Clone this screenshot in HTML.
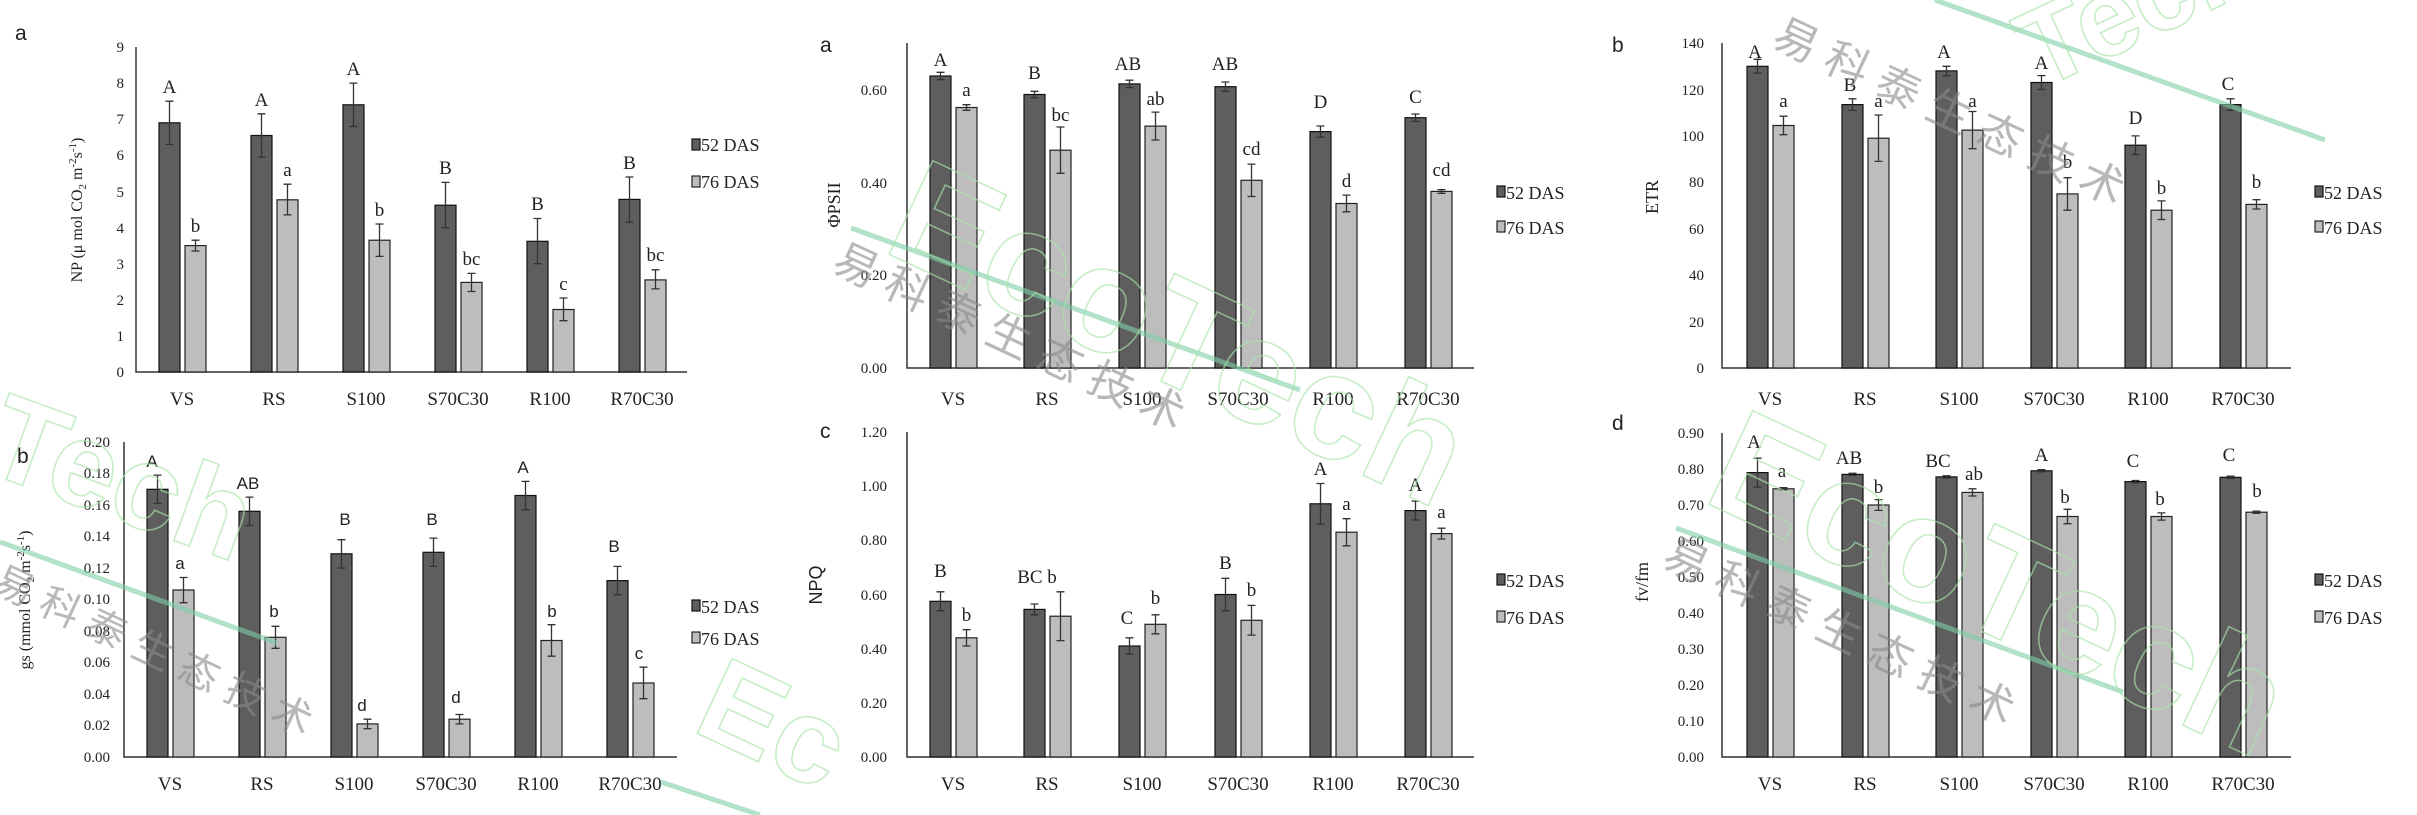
<!DOCTYPE html>
<html><head><meta charset="utf-8"><style>
html,body{margin:0;padding:0;background:#fff;}
svg{display:block;}
text{font-family:"Liberation Serif","Noto Serif CJK SC",serif;fill:#222;}
.t{font-size:15px;text-anchor:end;}
.c{font-size:19px;text-anchor:middle;}
.l{font-size:19px;text-anchor:middle;}
.lg{font-size:18px;}
.p{font-family:"Liberation Sans",sans-serif;font-size:21px;}
.d{fill:#5e5e5e;stroke:#111;stroke-width:1.2;}
.g{fill:#bdbdbd;stroke:#222;stroke-width:1.2;}
.e{stroke:#333;stroke-width:1.3;fill:none;}
.ax{stroke:#333;stroke-width:1.5;fill:none;}
.wm{font-family:"Liberation Sans","Noto Sans CJK SC",sans-serif;fill:#8a8a8a;opacity:.6;}
.eco{font-family:"Liberation Sans",sans-serif;font-weight:bold;fill:none;stroke:#a8e4a8;stroke-width:1.6;opacity:.65;}
</style></head><body>
<svg width="2417" height="815" viewBox="0 0 2417 815" xmlns="http://www.w3.org/2000/svg">
<rect width="2417" height="815" fill="#fff"/>

<!-- Panel NP -->
<text class="p" x="15" y="40">a</text>
<path class="ax" d="M136 47V372H687"/>
<g>
<text class="t" x="124" y="377">0</text><text class="t" x="124" y="341">1</text><text class="t" x="124" y="305">2</text><text class="t" x="124" y="269">3</text><text class="t" x="124" y="233">4</text><text class="t" x="124" y="197">5</text><text class="t" x="124" y="160">6</text><text class="t" x="124" y="124">7</text><text class="t" x="124" y="88">8</text><text class="t" x="124" y="52">9</text>
</g>
<text x="82" y="210" style="font-size:16px" text-anchor="middle" transform="rotate(-90 82 210)">NP (μ mol CO<tspan font-size="11" dy="4">2</tspan><tspan dy="-4"> m</tspan><tspan font-size="11" dy="-6">-2</tspan><tspan dy="6">s</tspan><tspan font-size="11" dy="-6">-1</tspan><tspan dy="6">)</tspan></text>
<rect class="d" x="159" y="122.8" width="21" height="249.2"/><path class="e" d="M169.5 101.2V144.5M165.5 101.2h8M165.5 144.5h8"/><text class="l" x="169.5" y="93">A</text>
<rect class="g" x="185" y="245.6" width="21" height="126.4"/><path class="e" d="M195.5 240.2V251M191.5 240.2h8M191.5 251h8"/><text class="l" x="195.5" y="232">b</text>
<rect class="d" x="251" y="135.5" width="21" height="236.5"/><path class="e" d="M261.5 113.8V157.1M257.5 113.8h8M257.5 157.1h8"/><text class="l" x="261.5" y="106">A</text>
<rect class="g" x="277" y="199.8" width="21" height="172.2"/><path class="e" d="M287.5 184.2V214.9M283.5 184.2h8M283.5 214.9h8"/><text class="l" x="287.5" y="176">a</text>
<rect class="d" x="343" y="104.8" width="21" height="267.2"/><path class="e" d="M353.5 83.1V126.5M349.5 83.1h8M349.5 126.5h8"/><text class="l" x="353.5" y="75">A</text>
<rect class="g" x="369" y="240.2" width="21" height="131.8"/><path class="e" d="M379.5 224V256.4M375.5 224h8M375.5 256.4h8"/><text class="l" x="379.5" y="216">b</text>
<rect class="d" x="435" y="205.2" width="21" height="166.8"/><path class="e" d="M445.5 182.4V227.6M441.5 182.4h8M441.5 227.6h8"/><text class="l" x="445.5" y="174">B</text>
<rect class="g" x="461" y="282.4" width="21" height="89.6"/><path class="e" d="M471.5 273.4V291.5M467.5 273.4h8M467.5 291.5h8"/><text class="l" x="471.5" y="265">bc</text>
<rect class="d" x="527" y="241.3" width="21" height="130.7"/><path class="e" d="M537.5 218.5V263.7M533.5 218.5h8M533.5 263.7h8"/><text class="l" x="537.5" y="210">B</text>
<rect class="g" x="553" y="309.5" width="21" height="62.5"/><path class="e" d="M563.5 298V320.7M559.5 298h8M559.5 320.7h8"/><text class="l" x="563.5" y="290">c</text>
<rect class="d" x="619" y="199.4" width="21" height="172.6"/><path class="e" d="M629.5 177V222.1M625.5 177h8M625.5 222.1h8"/><text class="l" x="629.5" y="169">B</text>
<rect class="g" x="645" y="279.9" width="21" height="92.1"/><path class="e" d="M655.5 269.8V288.9M651.5 269.8h8M651.5 288.9h8"/><text class="l" x="655.5" y="261">bc</text>
<text class="c" x="182" y="405">VS</text><text class="c" x="274" y="405">RS</text><text class="c" x="366" y="405">S100</text><text class="c" x="458" y="405">S70C30</text><text class="c" x="550" y="405">R100</text><text class="c" x="642" y="405">R70C30</text>
<rect class="d" x="692" y="139" width="8" height="11"/><text class="lg" x="701" y="151">52 DAS</text>
<rect class="g" x="692" y="176" width="8" height="11"/><text class="lg" x="701" y="188">76 DAS</text>

<!-- Panel gs -->
<text class="p" x="17" y="463">b</text>
<path class="ax" d="M124 442V757H677"/>
<g>
<text class="t" x="110" y="762">0.00</text><text class="t" x="110" y="730">0.02</text><text class="t" x="110" y="699">0.04</text><text class="t" x="110" y="667">0.06</text><text class="t" x="110" y="636">0.08</text><text class="t" x="110" y="604">0.10</text><text class="t" x="110" y="573">0.12</text><text class="t" x="110" y="541">0.14</text><text class="t" x="110" y="510">0.16</text><text class="t" x="110" y="478">0.18</text><text class="t" x="110" y="447">0.20</text>
</g>
<text x="30" y="600" style="font-size:16px" text-anchor="middle" transform="rotate(-90 30 600)">gs (mmol CO<tspan font-size="11" dy="4">2</tspan><tspan dy="-4"> m</tspan><tspan font-size="11" dy="-6">-2</tspan><tspan dy="6">s</tspan><tspan font-size="11" dy="-6">-1</tspan><tspan dy="6">)</tspan></text>
<rect class="d" x="147" y="489.3" width="21" height="267.7"/><path class="e" d="M157.5 475.1V503.4M153.5 475.1h8M153.5 503.4h8"/><text class="l" x="152" y="467" style="font-family:'Liberation Sans',sans-serif;font-size:17px">A</text>
<rect class="g" x="173" y="590" width="21" height="167"/><path class="e" d="M183.5 577.5V602.7M179.5 577.5h8M179.5 602.7h8"/><text class="l" x="180" y="569" style="font-family:'Liberation Sans',sans-serif;font-size:17px">a</text>
<rect class="d" x="239" y="511.3" width="21" height="245.7"/><path class="e" d="M249.5 497.1V525.5M245.5 497.1h8M245.5 525.5h8"/><text class="l" x="248" y="489" style="font-family:'Liberation Sans',sans-serif;font-size:17px">AB</text>
<rect class="g" x="265" y="637.3" width="21" height="119.7"/><path class="e" d="M275.5 626.3V648.3M271.5 626.3h8M271.5 648.3h8"/><text class="l" x="274" y="617" style="font-family:'Liberation Sans',sans-serif;font-size:17px">b</text>
<rect class="d" x="331" y="553.8" width="21" height="203.2"/><path class="e" d="M341.5 539.7V568M337.5 539.7h8M337.5 568h8"/><text class="l" x="345" y="525" style="font-family:'Liberation Sans',sans-serif;font-size:17px">B</text>
<rect class="g" x="357" y="723.9" width="21" height="33.1"/><path class="e" d="M367.5 719.2V728.7M363.5 719.2h8M363.5 728.7h8"/><text class="l" x="362" y="711" style="font-family:'Liberation Sans',sans-serif;font-size:17px">d</text>
<rect class="d" x="423" y="552.3" width="21" height="204.7"/><path class="e" d="M433.5 538.1V566.4M429.5 538.1h8M429.5 566.4h8"/><text class="l" x="432" y="525" style="font-family:'Liberation Sans',sans-serif;font-size:17px">B</text>
<rect class="g" x="449" y="719.2" width="21" height="37.8"/><path class="e" d="M459.5 714.5V723.9M455.5 714.5h8M455.5 723.9h8"/><text class="l" x="456" y="703" style="font-family:'Liberation Sans',sans-serif;font-size:17px">d</text>
<rect class="d" x="515" y="495.5" width="21" height="261.5"/><path class="e" d="M525.5 481.4V509.7M521.5 481.4h8M521.5 509.7h8"/><text class="l" x="523" y="473" style="font-family:'Liberation Sans',sans-serif;font-size:17px">A</text>
<rect class="g" x="541" y="640.5" width="21" height="116.5"/><path class="e" d="M551.5 624.7V656.2M547.5 624.7h8M547.5 656.2h8"/><text class="l" x="552" y="617" style="font-family:'Liberation Sans',sans-serif;font-size:17px">b</text>
<rect class="d" x="607" y="580.6" width="21" height="176.4"/><path class="e" d="M617.5 566.4V594.8M613.5 566.4h8M613.5 594.8h8"/><text class="l" x="614" y="552" style="font-family:'Liberation Sans',sans-serif;font-size:17px">B</text>
<rect class="g" x="633" y="683" width="21" height="74"/><path class="e" d="M643.5 667.2V698.7M639.5 667.2h8M639.5 698.7h8"/><text class="l" x="639" y="659" style="font-family:'Liberation Sans',sans-serif;font-size:17px">c</text>
<text class="c" x="170" y="790">VS</text><text class="c" x="262" y="790">RS</text><text class="c" x="354" y="790">S100</text><text class="c" x="446" y="790">S70C30</text><text class="c" x="538" y="790">R100</text><text class="c" x="630" y="790">R70C30</text>
<rect class="d" x="692" y="600" width="8" height="11"/><text class="lg" x="701" y="613">52 DAS</text>
<rect class="g" x="692" y="632" width="8" height="11"/><text class="lg" x="701" y="645">76 DAS</text>

<!-- Panel PhiPSII -->
<text class="p" x="820" y="52">a</text>
<path class="ax" d="M907 43V368H1474"/>
<text class="t" x="887" y="373">0.00</text><text class="t" x="887" y="280">0.20</text><text class="t" x="887" y="188">0.40</text><text class="t" x="887" y="95">0.60</text>
<text x="840" y="205" style="font-size:18px" text-anchor="middle" transform="rotate(-90 840 205)">ΦPSII</text>
<rect class="d" x="930" y="76" width="21" height="292"/><path class="e" d="M940.5 72.3V79.7M936.5 72.3h8M936.5 79.7h8"/><text class="l" x="940.5" y="66">A</text>
<rect class="g" x="956" y="107.5" width="21" height="260.5"/><path class="e" d="M966.5 104.7V110.3M962.5 104.7h8M962.5 110.3h8"/><text class="l" x="966.5" y="96">a</text>
<rect class="d" x="1024" y="94.5" width="21" height="273.5"/><path class="e" d="M1034.5 91.3V97.8M1030.5 91.3h8M1030.5 97.8h8"/><text class="l" x="1034.5" y="79">B</text>
<rect class="g" x="1050" y="150.2" width="21" height="217.8"/><path class="e" d="M1060.5 127V173.3M1056.5 127h8M1056.5 173.3h8"/><text class="l" x="1060.5" y="121">bc</text>
<rect class="d" x="1119" y="83.9" width="21" height="284.1"/><path class="e" d="M1129.5 80.2V87.6M1125.5 80.2h8M1125.5 87.6h8"/><text class="l" x="1128" y="70">AB</text>
<rect class="g" x="1145" y="126.1" width="21" height="241.9"/><path class="e" d="M1155.5 112.1V140M1151.5 112.1h8M1151.5 140h8"/><text class="l" x="1155.5" y="105">ab</text>
<rect class="d" x="1215" y="86.7" width="21" height="281.3"/><path class="e" d="M1225.5 82V91.3M1221.5 82h8M1221.5 91.3h8"/><text class="l" x="1225" y="70">AB</text>
<rect class="g" x="1241" y="180.3" width="21" height="187.7"/><path class="e" d="M1251.5 164.1V196.5M1247.5 164.1h8M1247.5 196.5h8"/><text class="l" x="1251.5" y="155">cd</text>
<rect class="d" x="1310" y="131.6" width="21" height="236.4"/><path class="e" d="M1320.5 126V137.2M1316.5 126h8M1316.5 137.2h8"/><text class="l" x="1320.5" y="108">D</text>
<rect class="g" x="1336" y="203.5" width="21" height="164.5"/><path class="e" d="M1346.5 195.1V211.8M1342.5 195.1h8M1342.5 211.8h8"/><text class="l" x="1346.5" y="187">d</text>
<rect class="d" x="1405" y="117.7" width="21" height="250.3"/><path class="e" d="M1415.5 114V121.4M1411.5 114h8M1411.5 121.4h8"/><text class="l" x="1415.5" y="103">C</text>
<rect class="g" x="1431" y="191.4" width="21" height="176.6"/><path class="e" d="M1441.5 189.6V193.3M1437.5 189.6h8M1437.5 193.3h8"/><text class="l" x="1441.5" y="176">cd</text>
<text class="c" x="953" y="405">VS</text><text class="c" x="1047" y="405">RS</text><text class="c" x="1142" y="405">S100</text><text class="c" x="1238" y="405">S70C30</text><text class="c" x="1333" y="405">R100</text><text class="c" x="1428" y="405">R70C30</text>
<rect class="d" x="1497" y="186" width="8" height="11"/><text class="lg" x="1506" y="199">52 DAS</text>
<rect class="g" x="1497" y="221" width="8" height="11"/><text class="lg" x="1506" y="234">76 DAS</text>

<!-- Panel NPQ -->
<text class="p" x="820" y="438">c</text>
<path class="ax" d="M907 432V757H1474"/>
<text class="t" x="887" y="762">0.00</text><text class="t" x="887" y="708">0.20</text><text class="t" x="887" y="654">0.40</text><text class="t" x="887" y="600">0.60</text><text class="t" x="887" y="545">0.80</text><text class="t" x="887" y="491">1.00</text><text class="t" x="887" y="437">1.20</text>
<text x="822" y="585" style="font-size:18px;font-family:'Liberation Sans',sans-serif" text-anchor="middle" transform="rotate(-90 822 585)">NPQ</text>
<rect class="d" x="930" y="601.3" width="21" height="155.7"/><path class="e" d="M940.5 591.8V610.8M936.5 591.8h8M936.5 610.8h8"/><text class="l" x="940.5" y="577">B</text>
<rect class="g" x="956" y="637.8" width="21" height="119.2"/><path class="e" d="M966.5 629.7V646M962.5 629.7h8M962.5 646h8"/><text class="l" x="966.5" y="621">b</text>
<rect class="d" x="1024" y="609.4" width="21" height="147.6"/><path class="e" d="M1034.5 604V614.8M1030.5 604h8M1030.5 614.8h8"/><text class="l" x="1037" y="583">BC b</text>
<rect class="g" x="1050" y="616.2" width="21" height="140.8"/><path class="e" d="M1060.5 591.8V640.6M1056.5 591.8h8M1056.5 640.6h8"/>
<rect class="d" x="1119" y="646" width="21" height="111"/><path class="e" d="M1129.5 637.8V654.1M1125.5 637.8h8M1125.5 654.1h8"/><text class="l" x="1127" y="624">C</text>
<rect class="g" x="1145" y="624.3" width="21" height="132.7"/><path class="e" d="M1155.5 614.8V633.8M1151.5 614.8h8M1151.5 633.8h8"/><text class="l" x="1155.5" y="604">b</text>
<rect class="d" x="1215" y="594.5" width="21" height="162.5"/><path class="e" d="M1225.5 578.3V610.8M1221.5 578.3h8M1221.5 610.8h8"/><text class="l" x="1225.5" y="569">B</text>
<rect class="g" x="1241" y="620.3" width="21" height="136.7"/><path class="e" d="M1251.5 605.4V635.1M1247.5 605.4h8M1247.5 635.1h8"/><text class="l" x="1251.5" y="596">b</text>
<rect class="d" x="1310" y="503.8" width="21" height="253.2"/><path class="e" d="M1320.5 483.5V524.1M1316.5 483.5h8M1316.5 524.1h8"/><text class="l" x="1320.5" y="475">A</text>
<rect class="g" x="1336" y="532.2" width="21" height="224.8"/><path class="e" d="M1346.5 518.7V545.8M1342.5 518.7h8M1342.5 545.8h8"/><text class="l" x="1346.5" y="510">a</text>
<rect class="d" x="1405" y="510.6" width="21" height="246.4"/><path class="e" d="M1415.5 501.1V520M1411.5 501.1h8M1411.5 520h8"/><text class="l" x="1415.5" y="491">A</text>
<rect class="g" x="1431" y="533.6" width="21" height="223.4"/><path class="e" d="M1441.5 528.2V539M1437.5 528.2h8M1437.5 539h8"/><text class="l" x="1441.5" y="518">a</text>
<text class="c" x="953" y="790">VS</text><text class="c" x="1047" y="790">RS</text><text class="c" x="1142" y="790">S100</text><text class="c" x="1238" y="790">S70C30</text><text class="c" x="1333" y="790">R100</text><text class="c" x="1428" y="790">R70C30</text>
<rect class="d" x="1497" y="574" width="8" height="11"/><text class="lg" x="1506" y="587">52 DAS</text>
<rect class="g" x="1497" y="611" width="8" height="11"/><text class="lg" x="1506" y="624">76 DAS</text>

<!-- Panel ETR -->
<text class="p" x="1612" y="52">b</text>
<path class="ax" d="M1722 43V368H2291"/>
<text class="t" x="1704" y="373">0</text><text class="t" x="1704" y="327">20</text><text class="t" x="1704" y="280">40</text><text class="t" x="1704" y="234">60</text><text class="t" x="1704" y="187">80</text><text class="t" x="1704" y="141">100</text><text class="t" x="1704" y="95">120</text><text class="t" x="1704" y="48">140</text>
<text x="1658" y="197" style="font-size:18px" text-anchor="middle" transform="rotate(-90 1658 197)">ETR</text>
<rect class="d" x="1747" y="66.3" width="21" height="301.7"/><path class="e" d="M1757.5 59.3V73.2M1753.5 59.3h8M1753.5 73.2h8"/><text class="l" x="1755" y="58">A</text>
<rect class="g" x="1773" y="125.5" width="21" height="242.5"/><path class="e" d="M1783.5 116.2V134.7M1779.5 116.2h8M1779.5 134.7h8"/><text class="l" x="1783.5" y="107">a</text>
<rect class="d" x="1842" y="104.6" width="21" height="263.4"/><path class="e" d="M1852.5 98.8V110.4M1848.5 98.8h8M1848.5 110.4h8"/><text class="l" x="1850" y="91">B</text>
<rect class="g" x="1868" y="138.2" width="21" height="229.8"/><path class="e" d="M1878.5 115V161.4M1874.5 115h8M1874.5 161.4h8"/><text class="l" x="1878.5" y="107">a</text>
<rect class="d" x="1936" y="70.9" width="21" height="297.1"/><path class="e" d="M1946.5 66.3V75.6M1942.5 66.3h8M1942.5 75.6h8"/><text class="l" x="1944" y="58">A</text>
<rect class="g" x="1962" y="130.1" width="21" height="237.9"/><path class="e" d="M1972.5 111.5V148.7M1968.5 111.5h8M1968.5 148.7h8"/><text class="l" x="1972.5" y="107">a</text>
<rect class="d" x="2031" y="82.5" width="21" height="285.5"/><path class="e" d="M2041.5 75.6V89.5M2037.5 75.6h8M2037.5 89.5h8"/><text class="l" x="2041.5" y="69">A</text>
<rect class="g" x="2057" y="193.9" width="21" height="174.1"/><path class="e" d="M2067.5 177.7V210.2M2063.5 177.7h8M2063.5 210.2h8"/><text class="l" x="2067.5" y="168">b</text>
<rect class="d" x="2125" y="145.2" width="21" height="222.8"/><path class="e" d="M2135.5 135.9V154.5M2131.5 135.9h8M2131.5 154.5h8"/><text class="l" x="2135.5" y="124">D</text>
<rect class="g" x="2151" y="210.2" width="21" height="157.8"/><path class="e" d="M2161.5 200.9V219.5M2157.5 200.9h8M2157.5 219.5h8"/><text class="l" x="2161.5" y="194">b</text>
<rect class="d" x="2220" y="104.6" width="21" height="263.4"/><path class="e" d="M2230.5 98.8V110.4M2226.5 98.8h8M2226.5 110.4h8"/><text class="l" x="2228" y="90">C</text>
<rect class="g" x="2246" y="204.4" width="21" height="163.6"/><path class="e" d="M2256.5 199.7V209M2252.5 199.7h8M2252.5 209h8"/><text class="l" x="2256.5" y="188">b</text>
<text class="c" x="1770" y="405">VS</text><text class="c" x="1865" y="405">RS</text><text class="c" x="1959" y="405">S100</text><text class="c" x="2054" y="405">S70C30</text><text class="c" x="2148" y="405">R100</text><text class="c" x="2243" y="405">R70C30</text>
<rect class="d" x="2315" y="186" width="8" height="11"/><text class="lg" x="2324" y="199">52 DAS</text>
<rect class="g" x="2315" y="221" width="8" height="11"/><text class="lg" x="2324" y="234">76 DAS</text>

<!-- Panel fv/fm -->
<text class="p" x="1612" y="430">d</text>
<path class="ax" d="M1722 433V757H2291"/>
<text class="t" x="1704" y="762">0.00</text><text class="t" x="1704" y="726">0.10</text><text class="t" x="1704" y="690">0.20</text><text class="t" x="1704" y="654">0.30</text><text class="t" x="1704" y="618">0.40</text><text class="t" x="1704" y="582">0.50</text><text class="t" x="1704" y="546">0.60</text><text class="t" x="1704" y="510">0.70</text><text class="t" x="1704" y="474">0.80</text><text class="t" x="1704" y="438">0.90</text>
<text x="1648" y="582" style="font-size:18px" text-anchor="middle" transform="rotate(-90 1648 582)">fv/fm</text>
<rect class="d" x="1747" y="472.6" width="21" height="284.4"/><path class="e" d="M1757.5 458.2V487M1753.5 458.2h8M1753.5 487h8"/><text class="l" x="1754" y="448">A</text>
<rect class="g" x="1773" y="488.8" width="21" height="268.2"/><path class="e" d="M1783.5 487.7V489.9M1779.5 487.7h8M1779.5 489.9h8"/><text class="l" x="1782" y="477">a</text>
<rect class="d" x="1842" y="474.4" width="21" height="282.6"/><path class="e" d="M1852.5 473.3V475.5M1848.5 473.3h8M1848.5 475.5h8"/><text class="l" x="1849" y="464">AB</text>
<rect class="g" x="1868" y="505" width="21" height="252"/><path class="e" d="M1878.5 499.6V510.4M1874.5 499.6h8M1874.5 510.4h8"/><text class="l" x="1878.5" y="493">b</text>
<rect class="d" x="1936" y="476.9" width="21" height="280.1"/><path class="e" d="M1946.5 475.8V478M1942.5 475.8h8M1942.5 478h8"/><text class="l" x="1938" y="467">BC</text>
<rect class="g" x="1962" y="492.4" width="21" height="264.6"/><path class="e" d="M1972.5 488.8V496M1968.5 488.8h8M1968.5 496h8"/><text class="l" x="1974" y="480">ab</text>
<rect class="d" x="2031" y="470.8" width="21" height="286.2"/><path class="e" d="M2041.5 469.7V471.9M2037.5 469.7h8M2037.5 471.9h8"/><text class="l" x="2041.5" y="461">A</text>
<rect class="g" x="2057" y="516.5" width="21" height="240.5"/><path class="e" d="M2067.5 509.3V523.7M2063.5 509.3h8M2063.5 523.7h8"/><text class="l" x="2065" y="503">b</text>
<rect class="d" x="2125" y="481.6" width="21" height="275.4"/><path class="e" d="M2135.5 480.5V482.7M2131.5 480.5h8M2131.5 482.7h8"/><text class="l" x="2133" y="467">C</text>
<rect class="g" x="2151" y="516.5" width="21" height="240.5"/><path class="e" d="M2161.5 512.9V520.1M2157.5 512.9h8M2157.5 520.1h8"/><text class="l" x="2160" y="505">b</text>
<rect class="d" x="2220" y="477.3" width="21" height="279.7"/><path class="e" d="M2230.5 476.2V478.4M2226.5 476.2h8M2226.5 478.4h8"/><text class="l" x="2229" y="461">C</text>
<rect class="g" x="2246" y="512.2" width="21" height="244.8"/><path class="e" d="M2256.5 511.1V513.3M2252.5 511.1h8M2252.5 513.3h8"/><text class="l" x="2257" y="497">b</text>
<text class="c" x="1770" y="790">VS</text><text class="c" x="1865" y="790">RS</text><text class="c" x="1959" y="790">S100</text><text class="c" x="2054" y="790">S70C30</text><text class="c" x="2148" y="790">R100</text><text class="c" x="2243" y="790">R70C30</text>
<rect class="d" x="2315" y="574" width="8" height="11"/><text class="lg" x="2324" y="587">52 DAS</text>
<rect class="g" x="2315" y="611" width="8" height="11"/><text class="lg" x="2324" y="624">76 DAS</text>

<!-- Watermarks -->
<g stroke="#7fcfa8" stroke-width="5" opacity="0.6">
<line x1="851" y1="228" x2="1300" y2="390"/>
<line x1="1935" y1="0" x2="2325" y2="140"/>
<line x1="1676" y1="528" x2="2123" y2="692"/>
<line x1="0" y1="542" x2="277" y2="643"/>
<line x1="661" y1="782" x2="760" y2="815"/>
</g>
<text class="eco" x="880" y="250" font-size="150" transform="rotate(25 880 250)">EcoTech</text>
<text class="eco" x="1700" y="500" font-size="150" transform="rotate(25 1700 500)">EcoTech</text>
<text class="eco" x="2040" y="90" font-size="110" transform="rotate(-25 2040 90)">Tech</text>
<text class="eco" x="-20" y="470" font-size="120" transform="rotate(20 -20 470)">Tech</text>
<text class="eco" x="690" y="730" font-size="120" transform="rotate(25 690 730)">Ec</text>
<text class="wm" x="830" y="270" font-size="44" transform="rotate(25 830 270)">易 科 泰 生 态 技 术</text>
<text class="wm" x="1770" y="45" font-size="44" transform="rotate(25 1770 45)">易 科 泰 生 态 技 术</text>
<text class="wm" x="1660" y="565" font-size="44" transform="rotate(25 1660 565)">易 科 泰 生 态 技 术</text>
<text class="wm" x="-10" y="590" font-size="40" transform="rotate(25 -10 590)">易 科 泰 生 态 技 术</text>
</svg>
</body></html>
